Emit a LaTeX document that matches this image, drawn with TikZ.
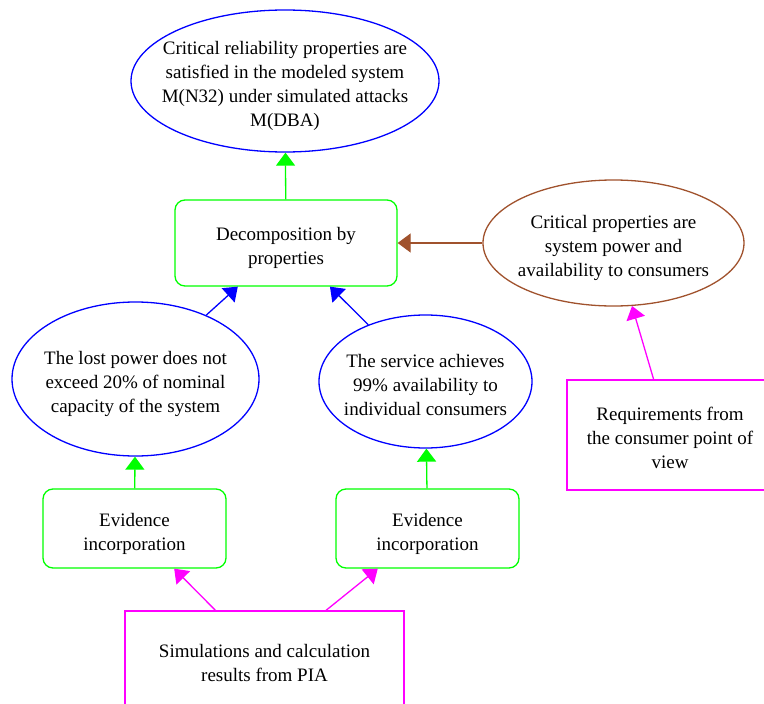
\documentclass[tikz,border=0pt]{standalone}
\usepackage{fontspec}
\setmainfont{Liberation Serif}
\usepackage{xcolor}
\usetikzlibrary{shapes,arrows.meta}

\definecolor{sienna}{RGB}{160,82,45}
\definecolor{pinkline}{RGB}{255,0,255}
\definecolor{greenline}{RGB}{0,255,0}
\definecolor{blueline}{RGB}{0,0,255}
\newcommand{\boxtext}[1]{\raisebox{-5pt}[\height][\depth]{\begin{tabular}{@{}c@{}}#1\end{tabular}}}
\newcommand{\ovaltext}[1]{\makebox[0pt]{\boxtext{#1}}}

\tikzset{
  every node/.style={font=\fontsize{19}{24}\selectfont},
  claim/.style={ellipse, draw=blueline, inner sep=0pt},
  context/.style={ellipse, draw=sienna, inner sep=0pt},
  strategy/.style={rectangle, rounded corners=10pt, draw=greenline, inner sep=0pt},
  source/.style={rectangle, draw=pinkline, inner sep=0pt},
  link/.style={-{Triangle[length=13pt, width=19pt]}}
}

\begin{document}
\begin{tikzpicture}[x=1pt, y=-1pt, line width=1.3pt]
    \useasboundingbox (0, 0) rectangle (764, 704);

    \node [claim, minimum width=308, minimum height=142] (goal) at (285, 81) {\ovaltext{Critical reliability properties are\\ satisfied in the modeled system\\ M(N32) under simulated attacks\\ M(DBA)}};
    \node [strategy, minimum width=222, minimum height=86] (decomp) at (286, 243) {\boxtext{Decomposition by\\ properties}};
    \node [context, minimum width=261, minimum height=126] (critical) at (613.5, 243) {\ovaltext{Critical properties are\\ system power and\\ availability to consumers}};
    \node [claim, minimum width=247, minimum height=154] (lostpower) at (135.5, 379) {\ovaltext{The lost power does not\\ exceed 20\% of nominal\\ capacity of the system}};
    \node [claim, minimum width=213, minimum height=133] (service) at (425.5, 381.5) {\ovaltext{The service achieves\\ 99\% availability to\\ individual consumers}};
    \node [strategy, minimum width=183, minimum height=79] (evidleft) at (134.5, 528.5) {\boxtext{Evidence\\ incorporation}};
    \node [strategy, minimum width=183, minimum height=79] (evidright) at (427.5, 528.5) {\boxtext{Evidence\\ incorporation}};
    \node [source, minimum width=206, minimum height=110] (consumer) at (670, 435) {\boxtext{Requirements from\\ the consumer point of\\ view}};
    \node [source, minimum width=279, minimum height=98] (pia) at (264.5, 660) {\boxtext{Simulations and calculation\\ results from PIA}};

    \draw [link, greenline] (decomp) -- (goal);
    \draw [link, sienna] (critical) -- (decomp);
    \draw [link, blueline] (lostpower) -- (decomp);
    \draw [link, blueline] (service) -- (decomp);
    \draw [link, greenline] (evidleft) -- (lostpower);
    \draw [link, greenline] (evidright) -- (service);
    \draw [link, pinkline] (pia) -- (evidleft);
    \draw [link, pinkline] (pia) -- (evidright);
    \draw [link, pinkline] (consumer) -- (critical);
\end{tikzpicture}
\end{document}
